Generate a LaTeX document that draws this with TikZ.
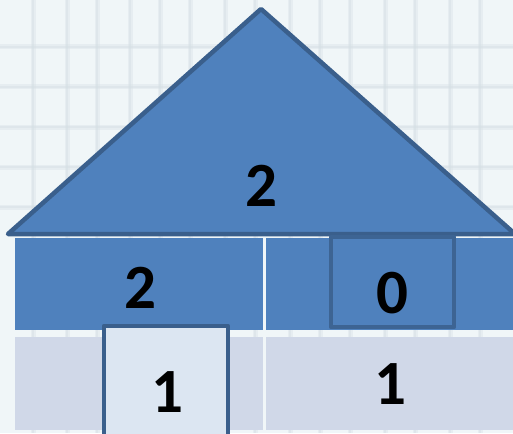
\documentclass[tikz,border=0pt]{standalone}
\usepackage{fontspec}
\setmainfont{Carlito}
\definecolor{bgc}{HTML}{F0F6F8}
\definecolor{gridc}{HTML}{D5DFE5}
\definecolor{roofc}{HTML}{4F81BD}
\definecolor{edgec}{HTML}{3A5F8C}
\definecolor{rowtwo}{HTML}{D0D8E8}
\definecolor{paleb}{HTML}{DCE6F2}
\begin{document}
\begin{tikzpicture}[x=1pt,y=-1pt,
  digit/.style={inner sep=0pt,font=\bfseries\fontsize{63}{63}\selectfont},
  cell/.style={fill=#1,draw=none},
  gridline/.style={gridc,line width=5pt,opacity=0.35},
  gridcore/.style={gridc,line width=1.5pt,opacity=0.45},
  markbox/.style={draw=edgec,line width=4.5pt,fill=#1,line join=round}]
\useasboundingbox (0,0) rectangle (513,433);
\clip (0,0) rectangle (513,433);
\fill[bgc] (0,0) rectangle (513,433);
\foreach \gx in {33,67,97,130,160,190,225,255,290,320,350,385,415,450,480} {
  \draw[gridline] (\gx,0) -- (\gx,433);
  \draw[gridcore] (\gx,0) -- (\gx,433);}
\foreach \gy in {47,87,127,167,207} {
  \draw[gridline] (0,\gy) -- (513,\gy);
  \draw[gridcore] (0,\gy) -- (513,\gy);}
% roof
\filldraw[fill=roofc,draw=edgec,line width=4.5pt,line join=round] (8,234) -- (261,9) -- (515,234) -- cycle;
% cells
\fill[cell=roofc] (15,238) rectangle (263,330);
\fill[cell=roofc] (266,238) rectangle (513,330);
\fill[cell=rowtwo] (15,337) rectangle (263,430);
\fill[cell=rowtwo] (266,337) rectangle (513,430);
% marked boxes
\node[markbox=paleb,minimum width=124pt,minimum height=114pt,inner sep=0pt] (boxone) at (166,383) {};
\node[markbox=roofc,minimum width=123pt,minimum height=90pt,inner sep=0pt,draw=edgec!85!roofc] (boxzero) at (392.5,282) {};
% texts
\node[digit] (roof) at (261,186) {2};
\node[digit] (ltop) at (140,288) {2};
\node[digit] (rtop) at (392,293) {0};
\node[digit] (lbot) at (167,392) {1};
\node[digit] (rbot) at (390,384) {1};
\end{tikzpicture}
\end{document}
